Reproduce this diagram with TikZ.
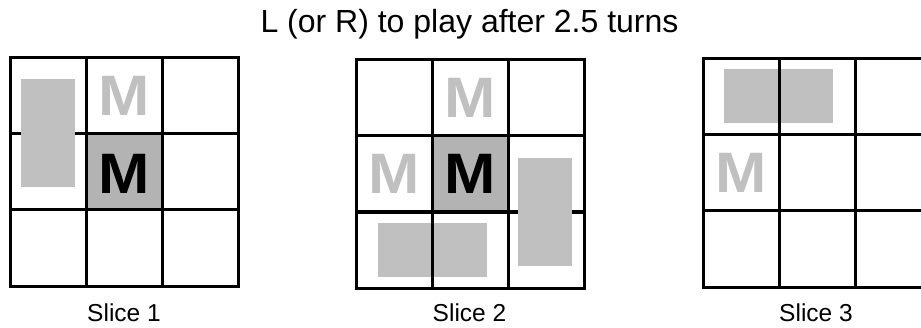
\documentclass[tikz,border=0pt]{standalone}
\usepackage{fontspec}
\setmainfont{Liberation Sans}
\usepackage{xcolor}
\usepackage{tikz}
\usetikzlibrary{positioning}

\definecolor{tilegray}{HTML}{C0C0C0}
\definecolor{cellgray}{HTML}{B3B3B3}

\begin{document}
\begin{tikzpicture}[
    x=1pt, y=1pt,
    board/.style={x=76pt, y=76pt},
    gridline/.style={line width=3pt, line cap=rect},
    domino/.style={fill=tilegray, draw=none, inner sep=0pt},
    vdomino/.style={domino, minimum width=54pt, minimum height=108pt},
    hdomino/.style={domino, minimum width=109pt, minimum height=54pt},
    darkcell/.style={fill=cellgray},
    piece/.style={font=\fontsize{57}{57}\selectfont\bfseries, inner sep=0pt, xscale=1.08},
    ghost/.style={piece, text=tilegray},
    caption/.style={font=\fontsize{24.5}{24.5}\selectfont, anchor=base},
  ]
  \useasboundingbox (0,0) rectangle (921,327);
  \clip (0,0) rectangle (921,327);

  % Titel
  \node[font=\fontsize{32}{32}\selectfont, anchor=base] (title) at (469.5,294)
    {L (or R) to play after 2.5 turns};

  % Slice 1
  \begin{scope}[shift={(10,41)}, board]
    \fill[darkcell] (1,1) rectangle (2,2);
    \foreach \y in {0,...,3} \draw[gridline] (0,\y) -- (3,\y);
    \node[vdomino] (d1v) at (0.5,2.01) {};
    \foreach \x in {0,...,3} \draw[gridline] (\x,0) -- (\x,3);
    \node[ghost] (m1top) at (1.5,2.5) {M};
    \node[piece] (m1mid) at (1.5,1.47) {M};
  \end{scope}

  % Slice 2
  \begin{scope}[shift={(356,39)}, board]
    \fill[darkcell] (1,1) rectangle (2,2);
    \foreach \y in {0,...,3} \draw[gridline] (0,\y) -- (3,\y);
    \node[hdomino] (d2h) at (1.005,0.5) {};
    \node[vdomino] (d2v) at (2.485,1.0) {};
    \foreach \x in {0,...,3} \draw[gridline] (\x,0) -- (\x,3);
    \node[ghost] (m2top) at (1.5,2.5) {M};
    \node[ghost] (m2left) at (0.5,1.5) {M};
    \node[piece] (m2mid) at (1.5,1.5) {M};
  \end{scope}

  % Slice 3
  \begin{scope}[shift={(703,40)}, board]
    \foreach \y in {0,...,3} \draw[gridline] (0,\y) -- (3,\y);
    \node[hdomino] (d3h) at (0.995,2.515) {};
    \foreach \x in {0,...,3} \draw[gridline] (\x,0) -- (\x,3);
    \node[ghost] (m3left) at (0.5,1.5) {M};
  \end{scope}

  % Beschriftung
  \node[caption] (s1) at (124,6) {Slice 1};
  \node[caption] (s2) at (469.5,6) {Slice 2};
  \node[caption] (s3) at (816,6) {Slice 3};
\end{tikzpicture}
\end{document}
